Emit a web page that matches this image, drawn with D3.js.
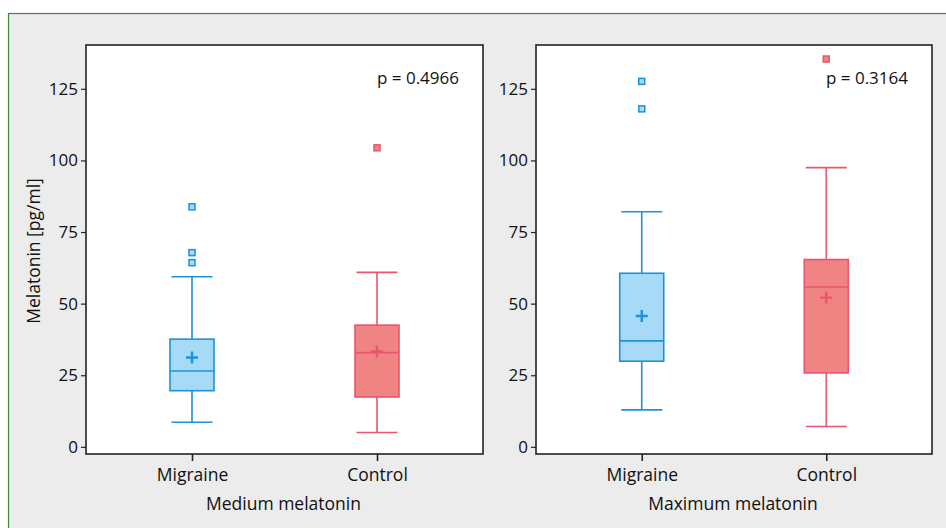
<!DOCTYPE html>
<html>
<head>
<meta charset="utf-8">
<script src="https://cdn.jsdelivr.net/npm/d3@7"></script>
<style>
  body { margin: 0; background: #fff; }
  svg text { font-family: "Open Sans", "Noto Sans", sans-serif; fill: #111; }
</style>
</head>
<body>
<svg width="946" height="528"></svg>
<script>
// categories and panels
var groups = ["Migraine", "Control"];
var panels = ["Medium melatonin", "Maximum melatonin"];
var pValues = ["p = 0.4966", "p = 0.3164"];
var yTicks = [0, 25, 50, 75, 100, 125];

// box stats per panel: [Migraine, Control]
var whiskerLow  = [[8.6, 5.0],   [12.9, 7.1]];
var q1          = [[19.6, 17.4], [29.9, 25.8]];
var median      = [[26.5, 32.9], [37.0, 55.8]];
var q3          = [[37.6, 42.5], [60.6, 65.4]];
var whiskerHigh = [[59.4, 60.9], [82.1, 97.5]];
var means       = [[31.2, 33.3], [45.7, 52.1]];
var outliers    = [[[83.8, 67.8, 64.3], [104.4]], [[127.6, 118.0], [135.4]]];

var strokeCol = {Migraine: "#1b93d6", Control: "#e8566f"};
var fillCol   = {Migraine: "#a6daf7", Control: "#f08482"};

var svg = d3.select("svg");

svg.append("rect")
  .attr("x", 8.5).attr("y", 13.5)
  .attr("width", 960).attr("height", 540)
  .attr("fill", "#ececec")
  .attr("stroke", "#3d8a3d")
  .attr("stroke-width", 1.2);

var panelX = [[86, 483], [536, 932]];
var plotTop = 45, plotBottom = 454;

var y = d3.scaleLinear().domain([-2.5, 140.3]).range([plotBottom, plotTop]);

panels.forEach(function(title, p){
  var x = d3.scalePoint().domain(groups).range(panelX[p]).padding(0.573);
  var g = svg.append("g");

  g.append("rect")
    .attr("x", panelX[p][0]).attr("y", plotTop)
    .attr("width", panelX[p][1] - panelX[p][0]).attr("height", plotBottom - plotTop)
    .attr("fill", "#fff")
    .attr("stroke", "#222").attr("stroke-width", 1.6);

  var yAxis = g.append("g")
    .attr("transform", "translate(" + panelX[p][0] + ",0)")
    .call(d3.axisLeft(y).tickValues(yTicks).tickSize(5).tickPadding(3));
  yAxis.select(".domain").remove();
  yAxis.selectAll("line").attr("stroke", "#222").attr("stroke-width", 1.2);
  yAxis.selectAll("text").style("font-size", "17px");

  var xAxis = g.append("g")
    .attr("transform", "translate(0," + plotBottom + ")")
    .call(d3.axisBottom(x).tickSize(7).tickPadding(8));
  xAxis.select(".domain").remove();
  xAxis.selectAll("line").attr("stroke", "#222").attr("stroke-width", 1.6);
  xAxis.selectAll("text").style("font-size", "17.5px");

  groups.forEach(function(grp, i){
    var cx = x(grp), sc = strokeCol[grp], fc = fillCol[grp];
    var bw = 44, cw = 41;
    var bg = g.append("g").attr("stroke", sc).attr("stroke-width", 1.6);

    bg.append("line")
      .attr("x1", cx).attr("x2", cx)
      .attr("y1", y(whiskerHigh[p][i])).attr("y2", y(q3[p][i]));
    bg.append("line")
      .attr("x1", cx).attr("x2", cx)
      .attr("y1", y(q1[p][i])).attr("y2", y(whiskerLow[p][i]));
    [whiskerHigh[p][i], whiskerLow[p][i]].forEach(function(v){
      bg.append("line")
        .attr("x1", cx - cw/2).attr("x2", cx + cw/2)
        .attr("y1", y(v)).attr("y2", y(v));
    });
    bg.append("rect")
      .attr("x", cx - bw/2).attr("width", bw)
      .attr("y", y(q3[p][i])).attr("height", y(q1[p][i]) - y(q3[p][i]))
      .attr("fill", fc);
    bg.append("line")
      .attr("x1", cx - bw/2).attr("x2", cx + bw/2)
      .attr("y1", y(median[p][i])).attr("y2", y(median[p][i]));
    // mean cross
    var my = y(means[p][i]);
    bg.append("path")
      .attr("d", "M" + (cx - 6) + "," + my + "H" + (cx + 6) + "M" + cx + "," + (my - 6) + "V" + (my + 6))
      .attr("stroke-width", 2.4);
    outliers[p][i].forEach(function(v){
      bg.append("rect")
        .attr("x", cx - 3).attr("y", y(v) - 3)
        .attr("width", 6).attr("height", 6)
        .attr("fill", fc).attr("stroke-width", 1.5);
    });
  });

  g.append("text")
    .attr("x", panelX[p][1] - 24).attr("y", 84)
    .attr("text-anchor", "end")
    .style("font-size", "17px")
    .text(pValues[p]);

  g.append("text")
    .attr("x", (panelX[p][0] + panelX[p][1]) / 2 - 1).attr("y", 510)
    .attr("text-anchor", "middle")
    .style("font-size", "17.5px")
    .text(title);
});

svg.append("text")
  .attr("transform", "translate(40,251) rotate(-90)")
  .attr("text-anchor", "middle")
  .style("font-size", "17.5px")
  .text("Melatonin [pg/ml]");
</script>
</body>
</html>
